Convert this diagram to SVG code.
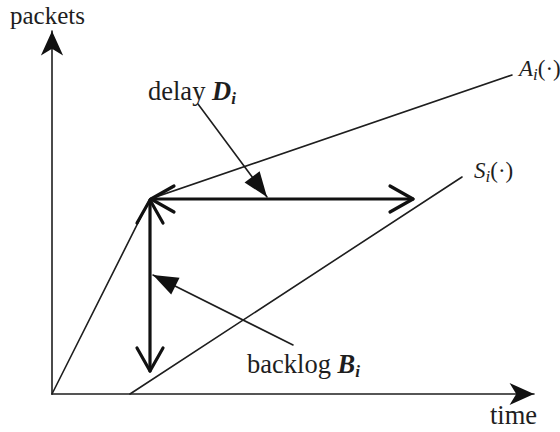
<svg xmlns="http://www.w3.org/2000/svg" width="560" height="432" viewBox="0 0 560 432">
<style>
  .thin { stroke: #1e1e1e; stroke-width: 1.6; fill: none; stroke-linecap: round; }
  .thick { stroke: #111; stroke-width: 3.2; fill: none; stroke-linecap: round; stroke-linejoin: round; }
  text { font-family: "Liberation Serif", "Times New Roman", serif; fill: #1e1e1e; font-size: 26.5px; }
  .lbl { font-size: 23px; }
  .it { font-style: italic; }
  .bi { font-style: italic; font-weight: bold; }
  .sub { font-size: 17px; }
</style>
<defs>
  <marker id="axisHead" markerUnits="userSpaceOnUse" markerWidth="30" markerHeight="30" viewBox="-25 -12 27 24" refX="0" refY="0" orient="auto" overflow="visible">
    <path d="M0,0 L-22,-10 L-16,0 L-22,10 Z" fill="#111"/>
  </marker>
  <marker id="openHead" markerUnits="userSpaceOnUse" markerWidth="30" markerHeight="30" viewBox="-25 -15 27 30" refX="0" refY="0" orient="auto-start-reverse" overflow="visible">
    <path d="M-23,-13 L0,0 L-23,13" fill="none" stroke="#111" stroke-width="3.2" stroke-linecap="round" stroke-linejoin="round"/>
  </marker>
  <marker id="ptrHead" markerUnits="userSpaceOnUse" markerWidth="30" markerHeight="30" viewBox="-22 -9 24 18" refX="0" refY="0" orient="auto" overflow="visible">
    <path d="M0,0 L-20,-7.5 L-20,7.5 Z" fill="#111"/>
  </marker>
</defs>

<g id="axes">
  <line class="thin" x1="52" y1="394" x2="52" y2="31" marker-end="url(#axisHead)"/>
  <line class="thin" x1="52" y1="394" x2="534" y2="394" marker-end="url(#axisHead)"/>
  <text x="10" y="24" style="font-size:25px">packets</text>
  <text x="490" y="424">time</text>
</g>

<g id="arrival-curve">
  <polyline class="thin" points="52,394 150,199 512,75"/>
  <text class="lbl" x="519" y="76"><tspan class="it">A</tspan><tspan class="it sub" dy="4">i</tspan><tspan dy="-4">(·)</tspan></text>
</g>

<g id="service-curve">
  <line class="thin" x1="130" y1="394" x2="462" y2="177"/>
  <text class="lbl" x="474" y="178"><tspan class="it">S</tspan><tspan class="it sub" dy="4">i</tspan><tspan dy="-4">(·)</tspan></text>
</g>

<g id="connectors">
  <line id="delay-arrow" class="thick" x1="151" y1="199" x2="413" y2="199" marker-start="url(#openHead)" marker-end="url(#openHead)"/>
  <line id="backlog-arrow" class="thick" x1="150" y1="200" x2="150" y2="371" marker-start="url(#openHead)" marker-end="url(#openHead)"/>
  <line id="delay-pointer" class="thin" x1="198" y1="104" x2="267" y2="197" marker-end="url(#ptrHead)"/>
  <line id="backlog-pointer" class="thin" x1="293" y1="345" x2="153" y2="275" marker-end="url(#ptrHead)"/>
</g>

<g id="delay-label">
  <text x="148" y="100">delay <tspan class="bi">D</tspan><tspan class="bi sub" dy="4">i</tspan></text>
</g>

<g id="backlog-label">
  <text x="247" y="373">backlog <tspan class="bi">B</tspan><tspan class="bi sub" dy="4">i</tspan></text>
</g>
</svg>
